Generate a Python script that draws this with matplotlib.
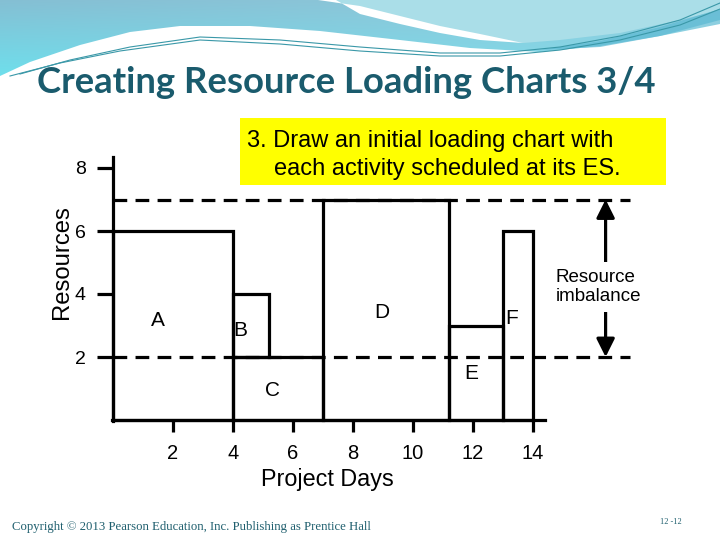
import matplotlib
matplotlib.use("Agg")
import matplotlib.pyplot as plt
import numpy as np
from matplotlib.patches import Polygon, Rectangle

# resource loading chart, each activity at its ES
activities = ["A", "B", "C", "D", "E", "F"]
start_days = [0, 4, 4, 7, 11.2, 13]
durations = [4, 1.2, 3, 4.2, 1.8, 1]
base_load = [0, 2, 0, 0, 0, 0]
resources = [6, 2, 2, 7, 3, 6]
limit_levels = [7, 2]
x_ticks = [2, 4, 6, 8, 10, 12, 14]
y_ticks = [2, 4, 6, 8]

# where the activity letters sit
label_pos = [(1.5, 3.17), (4.23, 2.83), (5.33, 0.95), (8.96, 3.4), (11.93, 1.48), (13.29, 3.23)]

plt.rcParams['font.family'] = ['Liberation Sans', 'DejaVu Sans']

fig = plt.figure(figsize=(7.2, 5.4), dpi=100)
fig.patch.set_facecolor("white")

# slide background in pixel coordinates
bg = fig.add_axes([0, 0, 1, 1], zorder=0)
bg.axis("off")

hdr = [(0, 0), (720, 0), (720, 24), (660, 36), (600, 46), (540, 52), (470, 48), (400, 40),
       (320, 31), (250, 26), (180, 26), (130, 32), (80, 45), (30, 62), (0, 76)]
yy = np.linspace(0, 1, 80)[:, None, None]
xx = np.linspace(0, 1, 720)[None, :, None]
top_c = np.array([0.52, 0.75, 0.83])
bot_c = np.array([0.43, 0.88, 0.93])
light_c = np.array([0.62, 0.84, 0.90])
img = top_c * (1 - yy) + bot_c * yy
img = img * (1 - 0.5 * xx) + light_c * 0.5 * xx
im = bg.imshow(img, extent=(0, 720, 80, 0), aspect="auto", zorder=0.5)
hpoly = Polygon(hdr, closed=True, facecolor="none", edgecolor="none")
bg.add_patch(hpoly)
im.set_clip_path(hpoly)

bg.add_patch(Polygon([(326, 0), (720, 0), (720, 10), (680, 20), (620, 33), (560, 40), (523, 43),
                      (480, 37), (440, 28), (400, 18), (360, 8)],
                     closed=True, facecolor="#aadee8", edgecolor="none", zorder=0.6))
bg.add_patch(Polygon([(318, 0), (360, 6), (400, 16), (440, 26), (480, 34), (523, 43),
                      (480, 40), (440, 33), (400, 24), (360, 14), (336, 0)],
                     closed=True, facecolor="white", edgecolor="none", zorder=0.7))
bg.add_patch(Polygon([(540, 50), (600, 41), (660, 27), (720, 9), (720, 20), (660, 36), (600, 47)],
                     closed=True, facecolor="#5cb9d3", edgecolor="none", alpha=0.7, zorder=0.7))
bg.plot([20, 70, 130, 200, 280, 360, 440, 500, 560, 620, 680, 720],
        [74, 60, 47, 37, 40, 47, 53, 53, 47, 36, 20, 3], color="#3a98a8", lw=0.8, zorder=0.8)
bg.plot([10, 60, 120, 200, 280, 360, 440, 500, 560, 620, 680, 720],
        [76, 63, 51, 40, 44, 51, 56, 56, 50, 40, 25, 9], color="#3a98a8", lw=0.8, zorder=0.8)

bg.add_patch(Rectangle((240, 118), 426, 67, facecolor="#ffff00", edgecolor="none", zorder=1))
bg.text(247, 146.7, "3. Draw an initial loading chart with", fontsize=17, va="baseline", zorder=2)
bg.text(274, 175, "each activity scheduled at its ES.", fontsize=17, va="baseline", zorder=2)

title = bg.text(36.7, 93, "Creating Resource Loading Charts 3/4", fontsize=26, fontweight="bold",
                color="#1a5b6d", va="baseline", family=["Liberation Sans Narrow", "Lato"])
footer = bg.text(12, 527, "Copyright © 2013 Pearson Education, Inc. Publishing as Prentice Hall",
                 fontsize=8, color="#1f5f6e", va="center", family="Liberation Serif")
bg.text(671, 522, "12 -12", fontsize=6, ha="center", va="center", color="#1f5f6e",
        family="Liberation Serif")

bg.set_xlim(0, 720)
bg.set_ylim(540, 0)

# fit title and footer widths to the slide
renderer = fig.canvas.get_renderer()
for t, w in [(title, 620), (footer, 360)]:
    cur = t.get_window_extent(renderer).width
    t.set_fontsize(t.get_fontsize() * w / cur)

# chart
ax = fig.add_axes([83 / 720, 57 / 540, 570 / 720, 346.5 / 540], zorder=2)
ax.patch.set_alpha(0)
ax.set_xlim(-1, 18)
ax.set_ylim(-2, 9)

ax.hlines(limit_levels, 0, 17.23, colors="black", linestyles=(0, (4.3, 2.6)), linewidth=2.3, zorder=2)
ax.bar(start_days, resources, width=durations, bottom=base_load, align="edge",
       fill=False, edgecolor="black", linewidth=2.3, zorder=3)

for name, (lx, ly) in zip(activities, label_pos):
    ax.text(lx, ly, name, ha="center", va="center", fontsize=15, zorder=4)

ax.annotate("", xy=(16.42, 7), xytext=(16.42, 2),
            arrowprops=dict(arrowstyle="<|-|>,head_length=1.1,head_width=0.55", color="black",
                            lw=2.3, shrinkA=0, shrinkB=0), zorder=3)
ax.text(16.17, 4.22, "Resource\nimbalance", ha="center", va="center", fontsize=13.5,
        multialignment="left", linespacing=1.2,
        bbox=dict(facecolor="white", edgecolor="none", pad=5), zorder=4)

for side in ["top", "right"]:
    ax.spines[side].set_visible(False)
ax.spines["left"].set_position(("data", 0))
ax.spines["left"].set_bounds(-0.04, 8.35)
ax.spines["bottom"].set_position(("data", 0))
ax.spines["bottom"].set_bounds(-0.04, 14.4)
for side in ["left", "bottom"]:
    ax.spines[side].set_linewidth(2.3)

ax.set_xticks(x_ticks)
ax.set_yticks(y_ticks)
ax.tick_params(axis="y", direction="out", length=11.5, width=2.3, pad=8, labelsize=14)
ax.tick_params(axis="x", direction="out", length=8.6, width=2.3, pad=9, labelsize=14.5)

ax.set_xlabel("Project Days", fontsize=16.8)
ax.xaxis.set_label_coords(0.428, 0.043)
ax.set_ylabel("Resources", fontsize=17.2)
ax.yaxis.set_label_coords(-0.017, 0.638)

fig.savefig("out.png", dpi=100)
